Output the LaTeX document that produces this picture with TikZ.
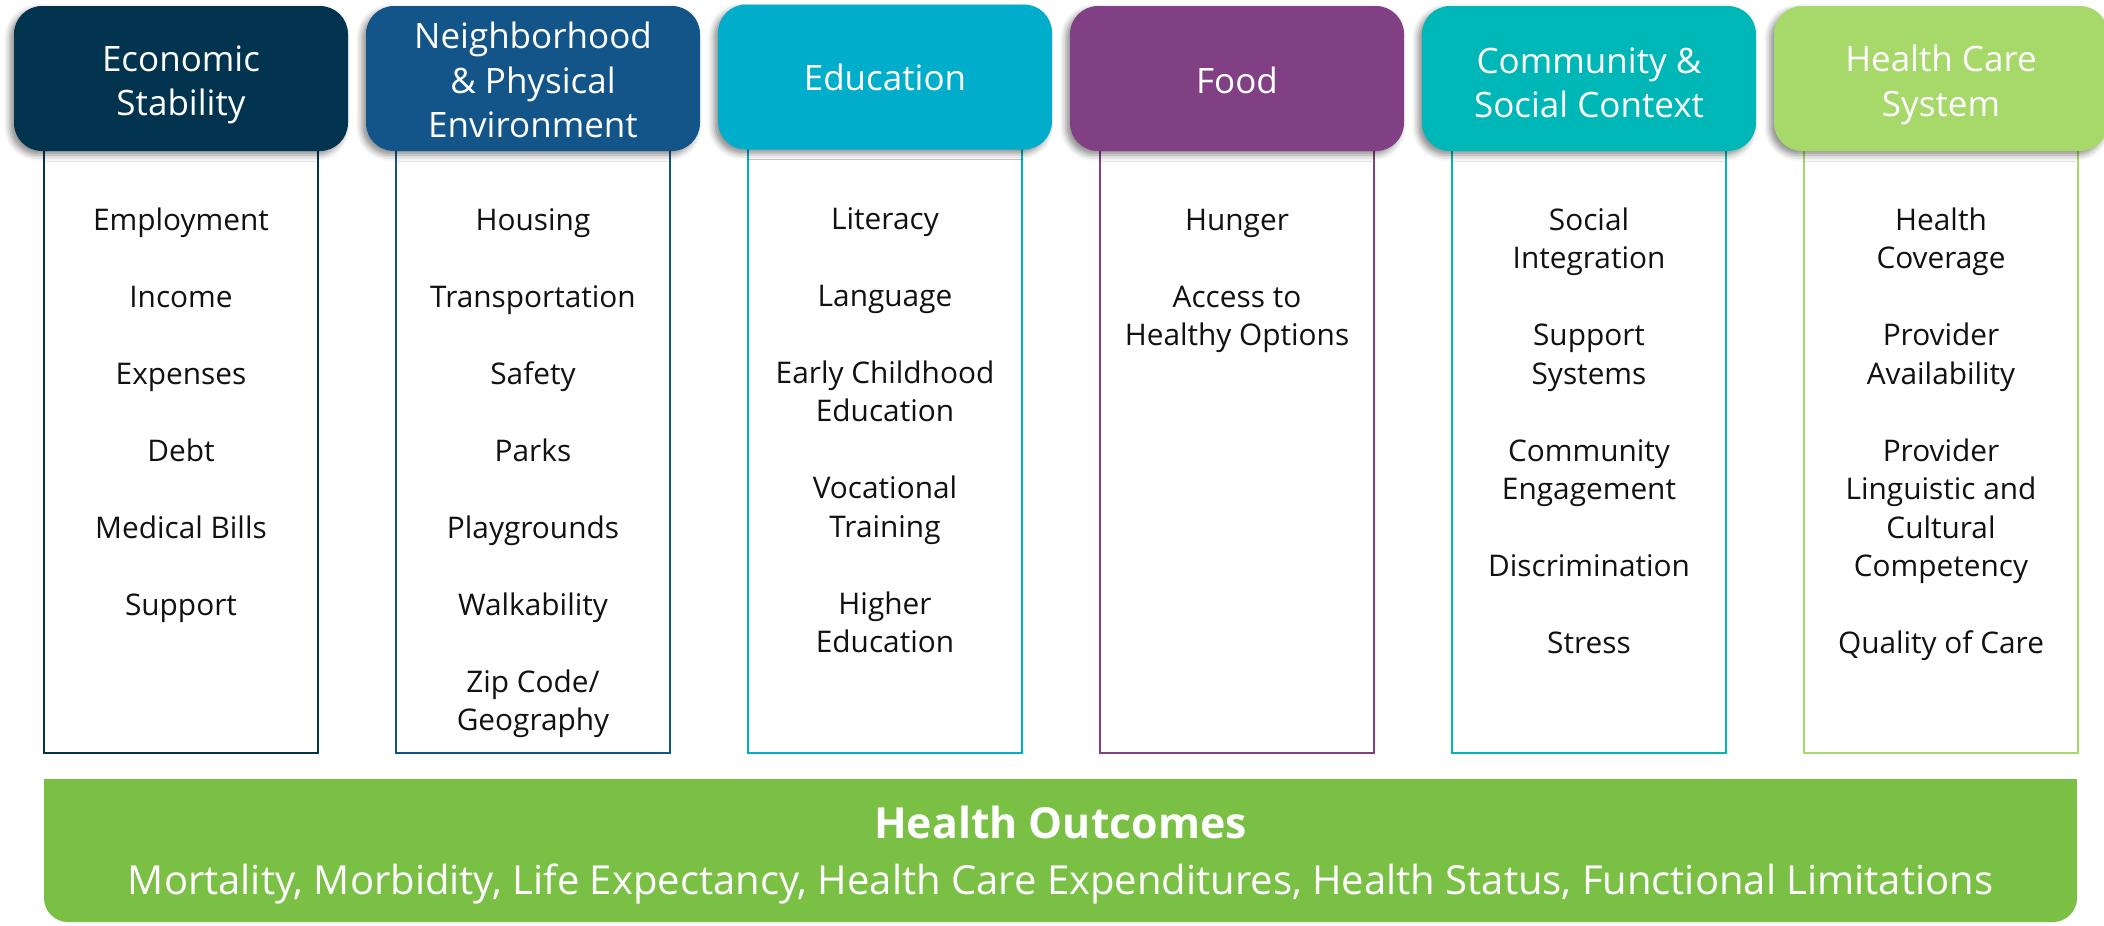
\documentclass[tikz,border=0pt]{standalone}
\usepackage{fontspec}
\setmainfont{Open Sans}
\usetikzlibrary{shadows.blur}
\definecolor{econ}{HTML}{023450}
\definecolor{neigh}{HTML}{145589}
\definecolor{educ}{HTML}{00ADCB}
\definecolor{food}{HTML}{814084}
\definecolor{comm}{HTML}{00B7B7}
\definecolor{hcare}{HTML}{A6D86A}
\definecolor{outc}{HTML}{7AC045}
\definecolor{bodytext}{HTML}{111111}
\begin{document}
\begin{tikzpicture}[x=0.5pt,y=-0.5pt,
  head/.style={rounded corners=14pt, minimum width=167pt, minimum height=72.5pt, inner sep=0pt,
    blur shadow={shadow xshift=-2pt, shadow yshift=-2pt, shadow blur radius=3pt, shadow opacity=45}},
  headtext/.style={inner sep=0pt, text=white, align=center, font=\fontsize{17.5}{22.2}\selectfont},
  colbox/.style={draw, line width=1.2pt, fill=white, minimum width=137pt, minimum height=306.5pt, inner sep=0pt},
  item/.style={anchor=base, font=\fontsize{14.9}{19.25}\selectfont, text=bodytext, inner sep=0pt}]
\useasboundingbox (0,0) rectangle (2104,926);

% column boxes
\node[colbox, draw=econ]  (box1) at (181,446.5) {};
\node[colbox, draw=neigh] (box2) at (533,446.5) {};
\node[colbox, draw=educ]  (box3) at (885,446.5) {};
\node[colbox, draw=food]  (box4) at (1237,446.5) {};
\node[colbox, draw=comm]  (box5) at (1589,446.5) {};
\node[colbox, draw=hcare] (box6) at (1941,446.5) {};

% headers
\node[head, fill=econ]  (h1) at (181,78.5) {};
\node[head, fill=neigh] (h2) at (533,78.5) {};
\node[head, fill=educ]  (h3) at (885,77) {};
\node[head, fill=food]  (h4) at (1237,78.5) {};
\node[head, fill=comm]  (h5) at (1589,78.5) {};
\node[head, fill=hcare] (h6) at (1941,78.5) {};
\node[headtext] (t1) at (181,85) {Economic\\Stability};
\node[headtext] (t2) at (533,80) {Neighborhood\\\& Physical\\Environment};
\node[headtext] (t3) at (885,77) {Education};
\node[headtext] (t4) at (1237,80) {Food};
\node[headtext] (t5) at (1589,83) {Community \&\\Social Context};
\node[headtext] (t6) at (1941,85) {Health Care\\System};

% items
\foreach \t [count=\i] in {Employment,,Income,,Expenses,,Debt,,Medical Bills,,Support}
  \node[item] (a\i) at (181,{230+(\i-1)*38.5}) {\t};
\foreach \t [count=\i] in {Housing,,Transportation,,Safety,,Parks,,Playgrounds,,Walkability,,Zip Code/,Geography}
  \node[item] (b\i) at (533,{230+(\i-1)*38.5}) {\t};
\foreach \t [count=\i] in {Literacy,,Language,,Early Childhood,Education,,Vocational,Training,,Higher,Education}
  \node[item] (c\i) at (885,{229+(\i-1)*38.5}) {\t};
\foreach \t [count=\i] in {Hunger,,Access to,Healthy Options}
  \node[item] (d\i) at (1237,{230+(\i-1)*38.5}) {\t};
\foreach \t [count=\i] in {Social,Integration,,Support,Systems,,Community,Engagement,,Discrimination,,Stress}
  \node[item] (e\i) at (1589,{230+(\i-1)*38.5}) {\t};
\foreach \t [count=\i] in {Health,Coverage,,Provider,Availability,,Provider,Linguistic and,Cultural,Competency,,Quality of Care}
  \node[item] (f\i) at (1941,{230+(\i-1)*38.5}) {\t};

% health outcomes bar
\fill[outc, rounded corners=12pt] (44,779) rectangle (2077,922);
\fill[outc] (44,779) rectangle (2077,850);
\node[anchor=base, inner sep=0pt, text=white, font=\bfseries\fontsize{21.4}{26}\selectfont] (ho) at (1060.5,838) {Health Outcomes};
\node[anchor=base, inner sep=0pt, text=white, font=\fontsize{20}{24}\selectfont] (hol) at (1060.5,894)
  {Mortality, Morbidity, Life Expectancy, Health Care Expenditures, Health Status, Functional Limitations};
\end{tikzpicture}
\end{document}
